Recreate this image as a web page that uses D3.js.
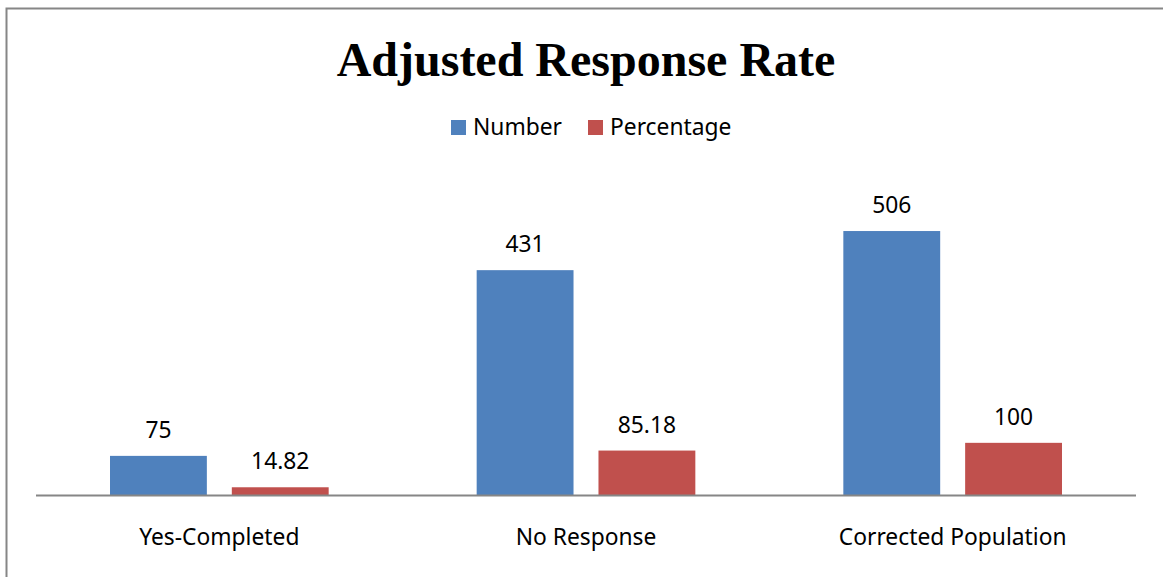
<!DOCTYPE html>
<html>
<head>
<meta charset="utf-8">
<script src="https://cdn.jsdelivr.net/npm/d3@7"></script>
<style>
  html, body { margin: 0; padding: 0; background: #fff; }
  svg { display: block; }
</style>
</head>
<body>
<svg id="svg"></svg>
<script>
const categories = ['Yes-Completed', 'No Response', 'Corrected Population'];
const seriesNames = ['Number', 'Percentage'];
const numberValues = [75, 431, 506];
const percentageValues = [14.82, 85.18, 100];
const labelText = [['75', '431', '506'], ['14.82', '85.18', '100']];

const width = 1163, height = 577;
const colors = ['#4F81BD', '#C0504D'];
const labelFont = '"Noto Sans", "Open Sans", sans-serif';
const labelSize = '22.8px';

const svg = d3.select('#svg')
  .attr('width', width)
  .attr('height', height);

// chart border (runs off the right and bottom edges)
svg.append('rect')
  .attr('x', 6.5).attr('y', 8.5)
  .attr('width', 1200).attr('height', 600)
  .attr('fill', 'white')
  .attr('stroke', '#868686')
  .attr('stroke-width', 2);

svg.append('text')
  .attr('x', 586).attr('y', 76)
  .attr('text-anchor', 'middle')
  .style('font-family', '"Liberation Serif", "Times New Roman", serif')
  .style('font-weight', 'bold')
  .style('font-size', '48px')
  .text('Adjusted Response Rate');

const x0 = d3.scaleBand().domain(categories).range([36, 1136]);
const x1 = d3.scaleBand().domain(seriesNames)
  .range([74, x0.bandwidth() - 74])
  .paddingInner(25 / 122);
const y = d3.scaleLinear().domain([0, 600]).range([495, 182]);

const series = seriesNames.map((name, i) => ({
  name,
  values: (i === 0 ? numberValues : percentageValues).map((v, j) => ({
    cat: categories[j], value: v, label: labelText[i][j]
  }))
}));

const groups = svg.selectAll('g.series')
  .data(series)
  .enter()
  .append('g')
    .attr('class', 'series')
    .attr('fill', (d, i) => colors[i]);

groups.selectAll('rect')
  .data(d => d.values.map(v => Object.assign({ s: d.name }, v)))
  .enter()
  .append('rect')
    .attr('x', d => x0(d.cat) + x1(d.s))
    .attr('y', d => y(d.value))
    .attr('width', x1.bandwidth())
    .attr('height', d => y(0) - y(d.value));

groups.selectAll('text')
  .data(d => d.values.map(v => Object.assign({ s: d.name }, v)))
  .enter()
  .append('text')
    .attr('x', d => x0(d.cat) + x1(d.s) + x1.bandwidth() / 2)
    .attr('y', d => y(d.value) - 18)
    .attr('text-anchor', 'middle')
    .attr('fill', '#000')
    .style('font-family', labelFont)
    .style('font-size', labelSize)
    .text(d => d.label);

// category axis
svg.append('line')
  .attr('x1', 36).attr('x2', 1136)
  .attr('y1', y(0) + 0.5).attr('y2', y(0) + 0.5)
  .attr('stroke', '#868686')
  .attr('stroke-width', 2);

svg.selectAll('text.cat')
  .data(categories)
  .enter()
  .append('text')
    .attr('class', 'cat')
    .attr('x', d => x0(d) + x0.bandwidth() / 2)
    .attr('y', 545)
    .attr('text-anchor', 'middle')
    .style('font-family', labelFont)
    .style('font-size', labelSize)
    .text(d => d);

// legend
const legendX = [451, 588];
const legend = svg.selectAll('g.legend')
  .data(seriesNames)
  .enter()
  .append('g')
    .attr('class', 'legend')
    .attr('transform', (d, i) => `translate(${legendX[i]},120)`);

legend.append('rect')
  .attr('width', 15).attr('height', 15)
  .attr('fill', (d, i) => colors[i]);

legend.append('text')
  .attr('x', 22).attr('y', 15)
  .style('font-family', labelFont)
  .style('font-size', labelSize)
  .text(d => d);
</script>
</body>
</html>
